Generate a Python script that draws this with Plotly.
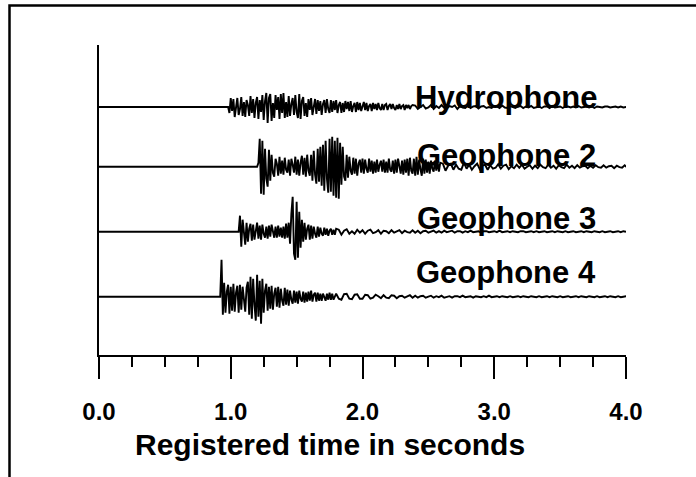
import numpy as np
import plotly.graph_objects as go

# ---------------- data ----------------
trace_names = ["Hydrophone", "Geophone 2", "Geophone 3", "Geophone 4"]
tick_values = [0, 1, 2, 3, 4]
tick_labels = ["0.0", "1.0", "2.0", "3.0", "4.0"]
x_title = "Registered time in seconds"

# onset (start of sampled burst) in seconds
onsets = [0.98, 1.20, 1.06, 0.92]

# amplitudes sampled every 0.01 s from onset (arbitrary units)
hydro_burst = [
    0, -6, 9, -4, 8, -10, 3, 9, -8, -2,
    10, -9, 5, -10, 7, 2, -9, 11, -6, 8,
    -11, 4, 10, -12, 7, -5, 12, -13, 6, 14,
    -16, 9, 13, -14, 4, -11, 12, -3, 10, -12,
    13, -6, 14, -11, 5, -10, 11, -9, 3, 9,
    -8, 12, -5, -11, 13, -12, 6, 10, -9, 4,
    -10, 8, -3, 9, -8, 2, 8, -7, 7, -4,
    6, -8, 3, 7, -6, 8, -2, -6, 7, -5,
    6, -3, 7, -6, 2, 5, -6, 4, -5, 6,
    -2, 5, -4, 6, -5, 1, 4, -5, 5, -3,
    4, -4, 2, 5, -3, 4, -4, 1, 3, -4,
    4, -2, 3, -3, 4, -1, -3, 3, -3, 2,
    3, -3, 1, 3, -2, 3, -1, -3, 2, -2,
    3, -2, 1, 2, -3, 2, -1, 2, -2, 1, 2,
]
geo2_burst = [
    0, 4, 28, -27, 26, -28, 18, -12, -20, 17,
    -14, 12, -6, -10, 8, 3, -9, 10, -7, 6,
    -8, 9, -3, -6, 7, -9, 8, 2, -6, 10,
    -8, 7, -9, 4, 11, -8, 9, -10, 12, -4,
    -9, 12, -14, 16, -8, -17, 18, -15, 20, -19,
    22, -24, 26, -12, -26, 28, -25, 30, -29, 26,
    -31, 29, -32, 24, -18, 20, -10, -14, 12, -11,
    10, -4, -8, 9, -7, 8, -9, 3, 7, -6,
    8, -7, 7, -2, -6, 8, -5, 6, -7, 5,
    -6, 7, -5, 2, 6, -5, 7, -6, 5, -6,
    8, -3, -5, 6, -7, 7, -6, 8, -2, -7,
    6, -8, 7, -6, 8, -9, 9, -4, -7, 8,
    -9, 10, -8, 7, -3, -9, 8, -7, 7, -6,
    5, -7, 6, -2, -5, 6, -4, 5, -5, 4,
]
geo3_burst = [
    0, 16, -15, 12, -4, -13, 9, -10, 3, 8,
    -9, 7, -8, 2, 9, -7, 6, -8, 7, -2,
    -6, 5, -7, 6, -5, 7, -2, -6, 5, -6,
    6, -5, 4, -6, 5, -7, 8, -6, 9, -12,
    18, 35, -22, -28, 30, -26, 20, -16, 12, -10,
    9, -8, 3, 7, -8, 6, -7, 5, -2, -6,
    5, -5, 4, -2, -4, 4, -3, 3, -4, 1,
    3, -3, 2, -3, 3,
]
geo4_burst = [
    0, 37, -18, 14, -16, 5, 12, -17, 10, -14,
    13, -15, 4, 11, -16, 12, -13, 10, -6, -15,
    9, 15, -18, 20, -22, 18, -8, -24, 22, -20,
    16, -27, 18, -16, 6, 13, -14, 10, -12, 11,
    -13, 3, 9, -10, 10, -11, 8, -4, -9, 9,
    -8, 7, -9, 6, -3, -7, 6, -6, 5, -7,
    6, -2, -5, 5, -6, 4, -5, 5, -4, 6,
    -5, 2, 4, -5, 4, -4, 3, -4, 3, -1,
    -4, 3, -3, 4, -3, 3, -3,
]

# coda amplitudes sampled every 0.02 s after the burst
hydro_tail = [
    1.5, -2, 0.5, 2, -1.5, -0.5, 2, -2, 1, -1,
    2, -1, -1.5, 1, 0, 1.5, -2, 1, -0.5, -1,
    1.5, -1, 0.5, 1, -1.5, 0.5, 1, -1, 0, -1,
    1, 0.5, -1, 1.5, -0.5, -1, 1, 0, -1, 0.5,
    1, -1, 0.5, -0.5, 1, -1, 0, 0.5, -1, 0.5,
    0.5, -1, 1, -0.5, 0, 0.5, -1, 0.5, 0.5, -0.5,
    0.5, -0.5, 1, -0.5, 0, 0.5, -0.5, 0.5, -1, 0.5,
    0, -0.5, 0.5, 0.5, -0.5, 0, 0.5, -0.5, 0.5, -0.5, 0, 0.5,
]
geo2_tail = [
    3, -4, 1, 3, -3, 2, -2, -3, 4, -2,
    2, -3, 0.5, 3, -2.5, 1, 2, -3, 1.5, -2,
    -1, 2.5, -2, 1, 2, -2.5, 0.5, -1.5, 2, -1,
    2, -2, 0, 1.5, -2, 1, -1.5, 2, -0.5, -1.5,
    2, -1, 1, -2, 1.5, -0.5, -1.5, 2, -1, 1,
    -1.5, 1.5, -1, 0.5, 1, -1.5, 1, -1, 1.5, -0.5,
    -1, 1.5, -1, 0.5, 1, -1.5, 1, -0.5, -1, 1.5, -1, 0.5, 1, -1, 0.5, -1,
]
geo3_tail = [
    2, -3, 1, 2.5, -2, 0.5, -2, 2, -1, 1.5,
    -2, 1, 2, -1.5, -0.5, 1.5, -2, 1, 0.5, -1.5,
    1.5, -1, 0, 1.5, -1.5, 1, -0.5, -1, 1.5, -1,
    1, -1.5, 0.5, 1, -1, 0, 1, -1, 0.5, -1,
    1, -0.5, 0, 1, -1, 0.5, 0.5, -1, 0.5, -0.5,
    1, -0.5, 0, 0.5, -1, 0.5, 0.5, -0.5, 0, 0.5,
    -0.5, 1, -0.5, 0, 0.5, -0.5, 0.5, 0, -0.5, 0.5,
    0.5, -0.5, 0, 0.5, -0.5, 0.5, -0.5, 0, 0.5, -0.5,
    0, 0.5, -0.5, 0.5, 0, -0.5, 0.5, -0.5, 0, 0.5,
    -0.5, 0, 0.5, -0.5, 0.5, 0, -0.5, 0.5, 0, -0.5,
    0.5, -0.5, 0, 0.5, -0.5, 0, 0.5, -0.5, 0.5, 0,
]
geo4_tail = [
    3, -2, -3, 2.5, 3, -2, -2.5, 2, 2.5, -2,
    -2, 2, 1.5, -2, -1, 2, 0.5, -1.5, 1.5, -1,
    -1.5, 1.5, 1, -1.5, 0.5, 1, -1, 0, 1.5, -1,
    1, -1, 0.5, 1, -1, 0, 1, -1, 0.5, -0.5,
    1, -1, 0, 0.5, -1, 0.5, 0.5, -0.5, 1, -0.5,
    0, 0.5, -1, 0.5, 0, -0.5, 0.5, -0.5, 1, -0.5,
    0, 0.5, -0.5, 0.5, 0, -0.5, 0.5, -0.5, 0, 0.5,
    -0.5, 0.5, 0, -0.5, 0.5, 0, -0.5, 0.5, -0.5, 0,
    0.5, -0.5, 0.5, 0, -0.5, 0.5, -0.5, 0, 0.5, -0.5,
    0, 0.5, -0.5, 0.5, 0, -0.5, 0.5, 0, -0.5, 0.5,
    -0.5, 0, 0.5, -0.5, 0.5, 0, -0.5, 0.5, -0.5, 0,
    0.5, -0.5, 0, 0.5, -0.5,
]

bursts = [hydro_burst, geo2_burst, geo3_burst, geo4_burst]
tails = [hydro_tail, geo2_tail, geo3_tail, geo4_tail]

# ---------------- layout constants ----------------
W, H = 696, 477
PX0, PX1 = 99, 626           # plot area left/right on screen
PY0, PY1 = 45, 355           # plot area top/bottom on screen
PW, PH = PX1 - PX0, PY1 - PY0
ML, MT = PX0, PY0
MR, MB = W - ML - PW, H - MT - PH

def px(x):  # screen x -> paper
    return (x - PX0) / PW

def py(y):  # screen y -> paper
    return (PY1 - y) / PH

baselines = [248, 188.3, 123.3, 58.3]  # vertical offsets of traces (axis units)
label_y = [258, 200, 137, 83]
label_x = 3.09
FONT = "Liberation Sans, Arial, sans-serif"
BURST_DT, TAIL_DT = 0.01, 0.02

fig = go.Figure()
for name, onset, burst, tail, base in zip(trace_names, onsets, bursts, tails, baselines):
    bt = onset + BURST_DT * np.arange(len(burst))
    tt = bt[-1] + TAIL_DT * (1 + np.arange(len(tail)))
    t = np.concatenate([[0.0], bt, tt])
    a = np.concatenate([[0.0], np.array(burst, float), np.array(tail, float)])
    fig.add_trace(go.Scatter(x=t, y=a + base, mode="lines", name=name,
                             line=dict(color="black", width=1.9),
                             showlegend=False, hoverinfo="skip"))

for name, ly in zip(trace_names, label_y):
    fig.add_annotation(x=label_x, y=ly, xref="x", yref="y", text=f"<b>{name}</b>",
                       showarrow=False, xanchor="center", yanchor="middle",
                       font=dict(family=FONT, size=31, color="black"))

fig.add_annotation(x=px(133), y=py(444), xref="paper", yref="paper",
                   text=f"<b>{x_title}</b>", showarrow=False, xanchor="left", yanchor="middle",
                   font=dict(family=FONT, size=30, color="black"))

# outer frame (left and top edges)
fig.add_shape(type="path", xref="paper", yref="paper",
              path=f"M {px(9.5)} {py(495)} L {px(9.5)} {py(5.5)} L {px(720)} {py(5.5)}",
              line=dict(color="black", width=2.5))

fig.update_layout(
    width=W, height=H,
    margin=dict(l=ML, r=MR, t=MT, b=MB, pad=0),
    paper_bgcolor="white", plot_bgcolor="white",
    xaxis=dict(range=[0, 4], showline=True, linecolor="black", linewidth=2,
               showgrid=False, zeroline=False, ticks="outside", ticklen=22,
               tickwidth=2, tickcolor="black", tickvals=tick_values,
               ticktext=[f"<b>{s}</b>" for s in tick_labels],
               tickfont=dict(family=FONT, size=24, color="black"),
               ticklabelstandoff=12,
               minor=dict(dtick=0.25, tick0=0, ticks="outside", ticklen=10,
                          tickwidth=1.5, tickcolor="black", showgrid=False)),
    yaxis=dict(range=[0, PH], showline=True, linecolor="black", linewidth=2,
               showgrid=False, zeroline=False, showticklabels=False, ticks=""),
)

fig.write_html("out.html", config={"displayModeBar": False},
               post_script="document.body.style.margin='0';")
